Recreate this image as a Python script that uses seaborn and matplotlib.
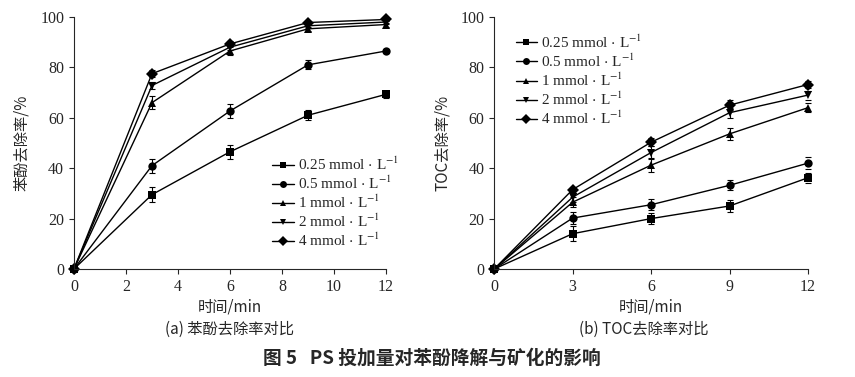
import numpy as np
import pandas as pd

import matplotlib
matplotlib.use("Agg")

import matplotlib.pyplot as plt
import seaborn as sns

# ------------------------ DATA --------------------------

LABELS = ["0.25", "0.5", "1", "2", "4"]
MARKERS = ["s", "o", "^", "v", "D"]

TIME_A = [0, 3, 6, 9, 12]
PHENOL = {
    "0.25": [0, 29.5, 46.5, 61.0, 69.3],
    "0.5": [0, 41.0, 62.7, 81.0, 86.5],
    "1": [0, 66.0, 86.5, 95.3, 97.0],
    "2": [0, 72.8, 88.0, 96.5, 98.0],
    "4": [0, 77.5, 89.3, 97.8, 99.0],
}
PHENOL_ERR = {
    "0.25": [0, 3.0, 2.8, 2.0, 1.5],
    "0.5": [0, 2.8, 2.6, 1.8, 0.8],
    "1": [0, 2.5, 1.5, 0.8, 0.8],
    "2": [0, 1.5, 1.0, 0.8, 0.6],
    "4": [0, 1.5, 1.0, 0.6, 0.6],
}

TIME_B = [0, 3, 6, 9, 12]
TOC = {
    "0.25": [0, 14.0, 20.0, 25.0, 36.2],
    "0.5": [0, 20.2, 25.5, 33.2, 42.0],
    "1": [0, 26.5, 41.2, 53.6, 64.0],
    "2": [0, 28.5, 46.2, 62.0, 69.0],
    "4": [0, 31.5, 50.3, 65.0, 73.2],
}
TOC_ERR = {
    "0.25": [0, 3.0, 2.2, 2.2, 2.0],
    "0.5": [0, 2.5, 2.2, 2.0, 2.3],
    "1": [0, 2.0, 2.8, 2.5, 1.8],
    "2": [0, 1.8, 2.5, 2.0, 1.8],
    "4": [0, 1.2, 1.5, 2.0, 1.2],
}

SERIF = ["Liberation Serif", "DejaVu Serif"]
CJK = ["Noto Sans CJK SC", "DejaVu Sans"]


def legend_name(k):
    return k + r" mmol $\cdot$ L$^{-1}$"


def make_df(times, values):
    rows = []
    for k in LABELS:
        for t, v in zip(times, values[k]):
            rows.append({"time": t, "value": v, "series": legend_name(k)})
    return pd.DataFrame(rows)


def draw_panel(ax, times, values, errs, xticks, ylabel, legend_anchor):
    df = make_df(times, values)
    names = [legend_name(k) for k in LABELS]
    sns.lineplot(
        data=df, x="time", y="value", style="series", style_order=names,
        markers=dict(zip(names, MARKERS)), dashes=False, color="black",
        linewidth=1.0, markersize=6, markeredgewidth=0, ax=ax,
    )
    for k in LABELS:
        ax.errorbar(times, values[k], yerr=errs[k], fmt="none",
                    ecolor="black", elinewidth=0.8, capsize=2.5, capthick=0.8)

    ax.set_xlim(0, 12)
    ax.set_ylim(0, 100)
    ax.set_xticks(xticks)
    ax.set_yticks([0, 20, 40, 60, 80, 100])
    ax.tick_params(direction="out", length=3.5, width=0.8, labelsize=11.5)
    ax.tick_params(axis="x", pad=4)
    for lab in ax.get_xticklabels() + ax.get_yticklabels():
        lab.set_fontfamily(SERIF)
    ax.set_xlabel("时间/min", family=CJK, fontsize=11, labelpad=2)
    ax.set_ylabel(ylabel, family=CJK, fontsize=11, labelpad=7)
    for s in ["top", "right"]:
        ax.spines[s].set_visible(False)
    for s in ["left", "bottom"]:
        ax.spines[s].set_linewidth(0.8)

    leg = ax.legend(loc="upper left", bbox_to_anchor=legend_anchor,
                    frameon=False, handlelength=1.4, handletextpad=0.3,
                    labelspacing=0.12, borderaxespad=0.0, borderpad=0.0,
                    prop={"family": SERIF, "size": 11})
    for h in leg.legend_handles:
        h.set_linewidth(1.0)
        h.set_markersize(5)
    for line in ax.lines:
        line.set_clip_on(False)


def main():
    sns.set_theme(style="ticks")
    plt.rcParams["font.family"] = SERIF
    plt.rcParams["mathtext.fontset"] = "stix"

    fig = plt.figure(figsize=(8.55, 3.77), dpi=100)
    ax1 = fig.add_axes([0.0865, 0.2865, 0.365, 0.6685])
    ax2 = fig.add_axes([0.578, 0.2865, 0.367, 0.6685])

    draw_panel(ax1, TIME_A, PHENOL, PHENOL_ERR, [0, 2, 4, 6, 8, 10, 12],
               "苯酚去除率/%", (0.635, 0.45))
    draw_panel(ax2, TIME_B, TOC, TOC_ERR, [0, 3, 6, 9, 12],
               "TOC去除率/%", (0.068, 0.935))

    fig.text(0.268, 0.127, "(a) 苯酚去除率对比", family=CJK, fontsize=11,
             ha="center", va="center")
    fig.text(0.753, 0.127, "(b) TOC去除率对比", family=CJK, fontsize=11,
             ha="center", va="center")
    fig.text(0.505, 0.05, "图 5   PS 投加量对苯酚降解与矿化的影响", family=CJK,
             fontsize=13.5, fontweight="bold", ha="center", va="center")

    fig.savefig("out.png", dpi=100)
    plt.close(fig)


if __name__ == "__main__":
    main()
